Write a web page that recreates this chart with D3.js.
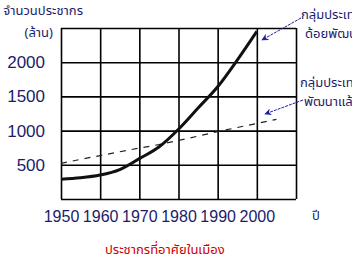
<!DOCTYPE html>
<html>
<head>
<meta charset="utf-8">
<script src="https://cdn.jsdelivr.net/npm/d3@7"></script>
<style>
  body { margin: 0; background: #fff; }
  .thai { font-family: "Noto Sans Thai", "Tahoma", "Loma", "Garuda", "Norasi", "Noto Sans", sans-serif; }
  .num { font-family: "Liberation Sans Narrow", "Arial Narrow", "Liberation Sans", sans-serif; }
</style>
</head>
<body>
<div id="chart"></div>
<script>
// data (millions of people)
const yearsLess = [1950, 1955, 1960, 1965, 1970, 1975, 1980, 1985, 1990, 1995, 2000];
const popLess = [290, 310, 350, 430, 590, 760, 1020, 1330, 1640, 2030, 2450];
const yearsMore = [1950, 1955, 1960, 1965, 1970, 1975, 1980, 1985, 1990, 1995, 2000, 2005];
const popMore = [520, 580, 635, 690, 745, 795, 855, 920, 985, 1045, 1105, 1165];
const xTicks = [1950, 1960, 1970, 1980, 1990, 2000];
const yTicks = [500, 1000, 1500, 2000];

const W = 352, H = 262;
const navy = "#1c1c6a";

const svg = d3.select("#chart").append("svg")
  .attr("width", W).attr("height", H);

const x = d3.scaleLinear().domain([1950, 2010]).range([61, 296]);
const y = d3.scaleLinear().domain([0, 2500]).range([199, 28]);

// grid
const g = svg.append("g");
g.append("g")
  .attr("transform", "translate(0,199)")
  .call(d3.axisBottom(x).tickValues(d3.range(1950, 2011, 10)).tickSize(-171).tickFormat(""))
  .call(s => s.select(".domain").remove());
g.append("g")
  .attr("transform", "translate(61,0)")
  .call(d3.axisLeft(y).tickValues(d3.range(0, 2501, 500)).tickSize(-235).tickFormat(""))
  .call(s => s.select(".domain").remove());
g.selectAll(".tick line").attr("stroke", "#000").attr("stroke-width", 1.6);

// tick labels
const xl = svg.append("g")
  .attr("transform", "translate(0,199)")
  .call(d3.axisBottom(x).tickValues(xTicks).tickSize(0).tickPadding(12).tickFormat(d3.format("d")));
xl.select(".domain").remove();
xl.selectAll("text").attr("class", "num").attr("font-size", 16).attr("fill", navy);

const yl = svg.append("g")
  .attr("transform", "translate(61,0)")
  .call(d3.axisLeft(y).tickValues(yTicks).tickSize(0).tickPadding(16).tickFormat(d3.format("d")));
yl.select(".domain").remove();
yl.selectAll("text").attr("class", "num").attr("font-size", 17).attr("fill", navy);

// lines
const lineLess = d3.line().x((d, i) => x(yearsLess[i])).y(d => y(d)).curve(d3.curveMonotoneX);
const lineMore = d3.line().x((d, i) => x(yearsMore[i])).y(d => y(d));

svg.append("path").datum(popMore)
  .attr("d", lineMore)
  .attr("fill", "none").attr("stroke", "#222").attr("stroke-width", 1.2)
  .attr("stroke-dasharray", "6,6");

svg.append("path").datum(popLess)
  .attr("d", lineLess)
  .attr("fill", "none").attr("stroke", "#111").attr("stroke-width", 3);

// axis titles
svg.append("text").attr("class", "thai").attr("x", 83).attr("y", 15)
  .attr("text-anchor", "end").attr("font-size", 13).attr("fill", navy).text("จำนวนประชากร");
svg.append("text").attr("class", "thai").attr("x", 53).attr("y", 37)
  .attr("text-anchor", "end").attr("font-size", 13).attr("fill", navy).text("(ล้าน)");
svg.append("text").attr("class", "thai").attr("x", 312).attr("y", 220)
  .attr("font-size", 13).attr("fill", navy).text("ปี");
svg.append("text").attr("class", "thai").attr("x", 105).attr("y", 254)
  .attr("font-size", 13).attr("fill", "#cc0000").text("ประชากรที่อาศัยในเมือง");

// annotations
svg.append("defs").append("marker")
  .attr("id", "arr").attr("viewBox", "0 0 10 10")
  .attr("refX", 9).attr("refY", 5)
  .attr("markerWidth", 7).attr("markerHeight", 7)
  .attr("orient", "auto")
  .append("path").attr("d", "M0,0L10,5L0,10L3,5Z").attr("fill", "#22229a");

const notes = [
  { lines: ["กลุ่มประเทศ", "ด้อยพัฒนา"], tx: 301, ty: 19, from: [301, 18], to: [262, 40] },
  { lines: ["กลุ่มประเทศ", "พัฒนาแล้ว"], tx: 300, ty: 87, from: [303, 100], to: [265, 114] }
];
notes.forEach(n => {
  svg.append("line")
    .attr("x1", n.from[0]).attr("y1", n.from[1])
    .attr("x2", n.to[0]).attr("y2", n.to[1])
    .attr("stroke", "#22229a").attr("stroke-width", 1)
    .attr("stroke-dasharray", "3,1")
    .attr("marker-end", "url(#arr)");
  n.lines.forEach((t, i) => {
    svg.append("text").attr("class", "thai")
      .attr("x", n.tx + (i ? 4 : 0)).attr("y", n.ty + i * 19)
      .attr("font-size", 13).attr("fill", navy).text(t);
  });
});
</script>
</body>
</html>
